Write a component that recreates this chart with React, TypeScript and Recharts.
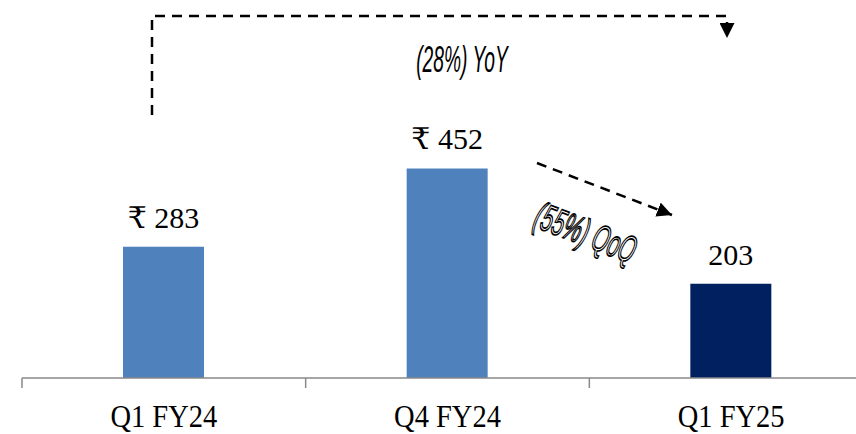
import { BarChart, Bar, XAxis, YAxis, Cell, LabelList, Customized } from "recharts";

const quarters = ["Q1 FY24", "Q4 FY24", "Q1 FY25"];
const amounts = [283, 452, 203];
const prefixes = ["₹ ", "₹ ", ""];
const barColors = ["#4F81BD", "#4F81BD", "#002060"];
const yoyText = "(28%) YoY";
const qoqText = "(55%) QoQ";

const CHART_W = 873;
const CHART_H = 434;
const PLOT_LEFT = 22;
const PLOT_TOP = 7;
const AXIS_H = 56;
const BAND = (CHART_W - PLOT_LEFT) / quarters.length;
const AXIS_COLOR = "#898989";
const SERIF = "'Liberation Serif', 'DejaVu Serif', 'Noto Sans', serif";
const NARROW = "'Liberation Sans', Arial, sans-serif";

const rows = quarters.map((q, i) => ({
  quarter: q,
  amount: amounts[i],
  label: `${prefixes[i]}${amounts[i]}`,
}));

// category label plus a divider tick on the left edge of each band
const CategoryTick = (props: any) => {
  const { x, y, payload } = props;
  const edge = x - BAND / 2;
  return (
    <g>
      <line x1={edge} x2={edge} y1={y} y2={y + 10} stroke={AXIS_COLOR} strokeWidth={1.5} />
      <text
        transform={`translate(${x},${y + 49}) scale(0.95,1.05)`}
        textAnchor="middle"
        fontFamily={SERIF}
        fontSize={30}
        fill="#000"
      >
        {payload.value}
      </text>
    </g>
  );
};

// dashed change arrows drawn over the bars
const Annotations = () => (
  <g>
    <defs>
      <marker
        id="arrowHead"
        viewBox="0 0 10 10"
        refX={10}
        refY={5}
        markerUnits="userSpaceOnUse"
        markerWidth={15}
        markerHeight={15}
        orient="auto"
      >
        <path d="M0,0 L10,5 L0,10 z" fill="#000" />
      </marker>
    </defs>
    <path
      d="M152,115 L152,16 L727,16 L727,38"
      fill="none"
      stroke="#000"
      strokeWidth={2.5}
      strokeDasharray="10 7"
      markerEnd="url(#arrowHead)"
    />
    <text
      transform="translate(462,72) scale(0.55,1.05)"
      textAnchor="middle"
      fontFamily={NARROW}
      fontStyle="italic"
      fontSize={35}
      fill="#000"
    >
      {yoyText}
    </text>
    <path
      d="M537,163 L672,215"
      fill="none"
      stroke="#000"
      strokeWidth={2.5}
      strokeDasharray="10 7"
      markerEnd="url(#arrowHead)"
    />
    <text
      transform="translate(586,232) rotate(21) scale(0.58,1.05)"
      textAnchor="middle"
      dominantBaseline="central"
      fontFamily={NARROW}
      fontStyle="italic"
      fontSize={36}
      fill="#fff"
      stroke="#000"
      strokeWidth={1.6}
    >
      {qoqText}
    </text>
  </g>
);

export default function App() {
  return (
    <div
      style={{
        position: "absolute",
        left: 0,
        top: 0,
        width: 856,
        height: 434,
        overflow: "hidden",
        background: "#fff",
      }}
    >
      <BarChart
        width={CHART_W}
        height={CHART_H}
        data={rows}
        margin={{ top: PLOT_TOP, right: 0, left: PLOT_LEFT, bottom: 0 }}
        barSize={81}
      >
        <XAxis
          dataKey="quarter"
          height={AXIS_H}
          axisLine={{ stroke: AXIS_COLOR, strokeWidth: 1.5 }}
          tickLine={false}
          tickSize={0}
          tickMargin={0}
          tick={<CategoryTick />}
          interval={0}
        />
        <YAxis hide domain={[0, 800]} />
        <Bar dataKey="amount" isAnimationActive={false}>
          {rows.map((r, i) => (
            <Cell key={r.quarter} fill={barColors[i]} />
          ))}
          <LabelList
            dataKey="label"
            position="top"
            offset={19}
            fontFamily={SERIF}
            fontSize={30}
            fill="#000"
          />
        </Bar>
        <Customized component={<Annotations />} />
      </BarChart>
    </div>
  );
}
